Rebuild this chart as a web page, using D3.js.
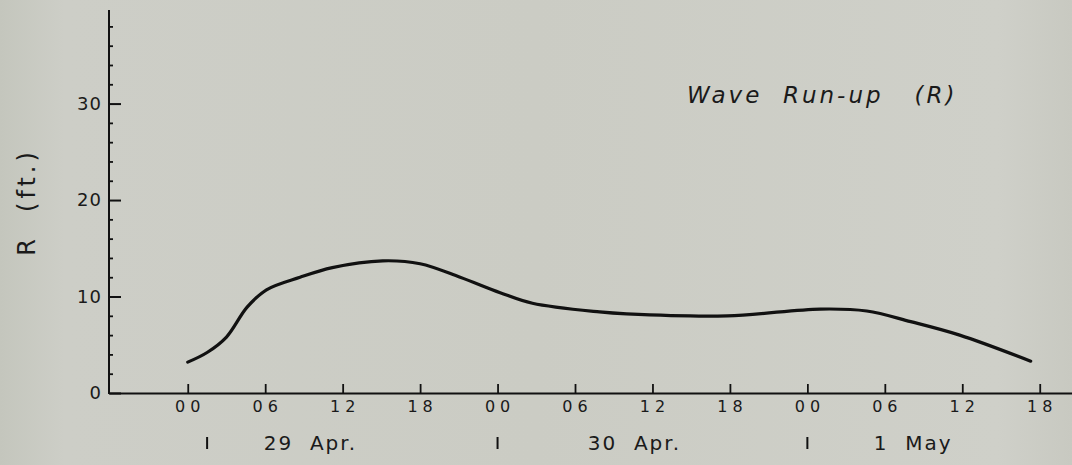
<!DOCTYPE html>
<html>
<head>
<meta charset="utf-8">
<script src="https://d3js.org/d3.v7.min.js"></script>
<style>
  body { margin: 0; background: #cacbc3; }
  svg { display: block; }
  text { font-family: "DejaVu Sans", sans-serif; fill: #1a1a1a; }
</style>
</head>
<body>
<div id="chart"></div>
<script>
// hours counted from 00h 29 Apr
var hours   = [0, 1.5, 3.0, 4.6, 6.1, 8.7, 11.2, 15.1, 18.0, 21.1, 24.2, 26.7, 31.9, 34.0, 41.8, 49.0, 52.6, 56.0, 59.8, 65.3];
var runup   = [3.2, 4.2, 5.8, 8.9, 10.7, 12.0, 13.0, 13.7, 13.4, 12.0, 10.4, 9.3, 8.4, 8.2, 8.0, 8.7, 8.5, 7.4, 6.0, 3.3];

var xTickHours  = [0, 6, 12, 18, 24, 30, 36, 42, 48, 54, 60, 66];
var xTickLabels = ["00", "06", "12", "18", "00", "06", "12", "18", "00", "06", "12", "18"];
var yTicks      = [0, 10, 20, 30];
var yMinorTicks = [2, 4, 6, 8, 12, 14, 16, 18, 22, 24, 26, 28, 32, 34, 36, 38];

var dayNames    = ["29 Apr.", "30 Apr.", "1 May"];
var dayCentres  = [9.5, 34.6, 56.2];
var dayMarks    = [1.5, 24, 48];

var width = 1072, height = 465;

var svg = d3.select("#chart").append("svg")
    .attr("width", width)
    .attr("height", height);

// scanned paper look
var grad = svg.append("defs").append("linearGradient")
    .attr("id", "paper").attr("x1", 0).attr("x2", 1).attr("y1", 0).attr("y2", 0);
grad.append("stop").attr("offset", "0").attr("stop-color", "#c4c6bd");
grad.append("stop").attr("offset", "0.06").attr("stop-color", "#cdcec7");
grad.append("stop").attr("offset", "0.5").attr("stop-color", "#cbccc4");
grad.append("stop").attr("offset", "0.93").attr("stop-color", "#cfd0c9");
grad.append("stop").attr("offset", "1").attr("stop-color", "#c8c9c1");
svg.append("rect").attr("width", width).attr("height", height).attr("fill", "url(#paper)");

var x = d3.scaleLinear().domain([-6.1, 68.5]).range([109, 1072]);
var y = d3.scaleLinear().domain([0, 39.7]).range([393, 10]);

// x axis: ticks pointing up, labels below
var xAxis = svg.append("g")
    .attr("transform", "translate(0," + y(0) + ")")
    .call(d3.axisBottom(x)
        .tickValues(xTickHours)
        .tickFormat(function (d, i) { return xTickLabels[i]; })
        .tickSizeInner(-9)
        .tickSizeOuter(0)
        .tickPadding(8));
xAxis.select(".domain").attr("stroke", "#111").attr("stroke-width", 2);
xAxis.selectAll(".tick line").attr("stroke", "#111").attr("stroke-width", 1.8);
xAxis.selectAll(".tick text")
    .style("font-size", "16px")
    .attr("letter-spacing", "5px")
    .attr("dx", "2px")
    .attr("fill", "#1a1a1a");

// y axis: ticks pointing right, labels on the left
var yAxis = svg.append("g")
    .attr("transform", "translate(" + x.range()[0] + ",0)")
    .call(d3.axisLeft(y)
        .tickValues(yTicks)
        .tickSizeInner(-12)
        .tickSizeOuter(0)
        .tickPadding(7));
yAxis.select(".domain").remove();
yAxis.selectAll(".tick line").attr("stroke", "#111").attr("stroke-width", 2);
yAxis.selectAll(".tick text")
    .style("font-size", "18px")
    .attr("letter-spacing", "1px")
    .attr("fill", "#1a1a1a");

var yMinor = svg.append("g")
    .attr("transform", "translate(" + x.range()[0] + ",0)")
    .call(d3.axisLeft(y)
        .tickValues(yMinorTicks)
        .tickSizeInner(-4)
        .tickSizeOuter(0)
        .tickFormat(""));
yMinor.select(".domain").remove();
yMinor.selectAll(".tick line").attr("stroke", "#111").attr("stroke-width", 1.8);

svg.append("line")
    .attr("x1", x.range()[0]).attr("x2", x.range()[0])
    .attr("y1", y(39.7)).attr("y2", y(0) + 1)
    .attr("stroke", "#111").attr("stroke-width", 2);

// run-up curve
var pts = hours.map(function (h, i) { return [h, runup[i]]; });
svg.append("path")
    .datum(pts)
    .attr("fill", "none")
    .attr("stroke", "#111")
    .attr("stroke-width", 3.2)
    .attr("stroke-linecap", "round")
    .attr("d", d3.line()
        .x(function (d) { return x(d[0]); })
        .y(function (d) { return y(d[1]); })
        .curve(d3.curveCatmullRom.alpha(0.5)));

// date row
svg.selectAll(".daymark")
    .data(dayMarks)
    .enter().append("line")
    .attr("class", "daymark")
    .attr("x1", function (d) { return x(d); })
    .attr("x2", function (d) { return x(d); })
    .attr("y1", 437).attr("y2", 449)
    .attr("stroke", "#111").attr("stroke-width", 2);

svg.selectAll(".dayname")
    .data(dayNames)
    .enter().append("text")
    .attr("class", "dayname")
    .attr("x", function (d, i) { return x(dayCentres[i]); })
    .attr("y", 450)
    .attr("text-anchor", "middle")
    .attr("letter-spacing", "2px")
    .attr("xml:space", "preserve")
    .style("font-size", "20px")
    .text(function (d) { return d.replace(" ", "  "); });

// title
svg.append("text")
    .attr("x", 687).attr("y", 103)
    .attr("letter-spacing", "3px")
    .attr("xml:space", "preserve")
    .style("font-size", "23px")
    .style("font-style", "italic")
    .text("Wave  Run-up   (R)");

// y label
svg.append("text")
    .attr("transform", "translate(35,202) rotate(-90)")
    .attr("text-anchor", "middle")
    .attr("letter-spacing", "4px")
    .attr("xml:space", "preserve")
    .style("font-size", "24px")
    .text("R  (ft.)");
</script>
</body>
</html>
